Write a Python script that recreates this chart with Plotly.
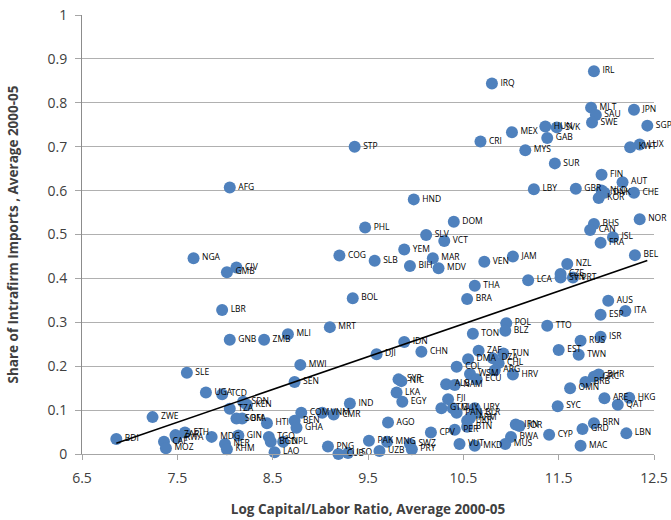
import plotly.graph_objects as go

countries = ["IRL","IRQ","MLT","SAU","SWE","JPN","SGP","LUX","KWT","HUN","SVK","GAB","MEX","MYS","SUR","CRI","STP",
 "FIN","AUT","LBY","GBR","NLD","DNK","KOR","CHE","NOR","BHS","CAN","ISL","FRA","JAM","BEL","NZL","CZE","SVN","PRT","LCA",
 "AUS","ITA","ESP","POL","BLZ","TTO","ISR","RUS","EST","TWN","TUN","HRV","BHR","GRC","BRB","OMN","ARE","HKG","QAT","SYC",
 "BRN","GRD","LBN","CYP","MAC","IRN","JOR","BWA","MUS","TON","IDN","DJI","CHN","ZAF","DZA","CHL","ARG","DMA","COL","WSM","ECU",
 "SYR","NIC","LKA","EGY","ALB","NAM","FJI","GTM","GUY","PAN","URY","BLR","UKR","ARM","BTN","PER","CPV","VUT","MKD","AGO",
 "PAK","MNG","SWZ","PRY","UZB","LSO","CUB","PNG","MWI","SEN","MRT","MLI","ZMB","GNB","LBR","IND","COM","VNM","CMR","BEN",
 "GHA","HTI","TGO","BGD","NPL","LAO","GIN","MDG","NER","KHM","UGA","TCD","SDN","KEN","TZA","SOM","BFA","SLE","ZWE","BDI",
 "CAF","MOZ","ETH","RWA","ZAR","NGA","CIV","GMB","AFG","COG","BOL","PHL","HND","DOM","SLV","VCT","YEM","SLB","BIH","MAR",
 "MDV","VEN","THA","BRA"]

log_kl = [11.87,10.80,11.84,11.89,11.85,12.29,12.43,12.35,12.25,11.36,11.48,11.38,11.01,11.15,11.46,10.68,9.36,
 11.95,12.17,11.24,11.68,11.95,11.98,11.92,12.29,12.35,11.87,11.83,12.07,11.94,11.02,12.30,11.59,11.52,11.52,11.65,11.18,
 12.02,12.20,11.94,10.95,10.94,11.38,11.94,11.73,11.50,11.71,10.92,11.02,11.92,11.87,11.78,11.62,11.98,12.24,12.12,11.49,
 11.87,11.75,12.21,11.40,11.73,11.05,11.09,11.00,10.94,10.60,9.88,9.59,10.06,10.66,10.81,10.87,10.83,10.55,10.43,10.57,10.64,
 9.82,9.85,9.80,9.86,10.32,10.41,10.34,10.27,10.39,10.43,10.62,10.64,10.54,10.57,10.54,10.41,10.16,10.46,10.62,9.71,
 9.51,9.70,9.94,9.96,9.62,9.29,9.19,9.08,8.79,8.73,9.10,8.66,8.41,8.05,7.97,9.31,8.80,9.02,9.14,8.73,
 8.75,8.44,8.46,8.48,8.61,8.52,8.14,7.86,8.00,8.02,7.80,7.97,8.19,8.23,8.05,8.12,8.18,7.60,7.24,6.86,
 7.36,7.38,7.58,7.49,7.48,7.67,8.12,8.02,8.05,9.20,9.34,9.47,9.98,10.40,10.11,10.30,9.88,9.57,9.94,10.18,
 10.24,10.72,10.62,10.54]

intrafirm_share = [0.872,0.844,0.789,0.772,0.755,0.784,0.748,0.705,0.699,0.746,0.744,0.720,0.733,0.692,0.662,0.712,0.700,
 0.636,0.619,0.603,0.604,0.600,0.595,0.583,0.595,0.535,0.524,0.510,0.494,0.481,0.450,0.453,0.433,0.410,0.402,0.402,0.396,
 0.349,0.326,0.317,0.298,0.281,0.292,0.267,0.258,0.237,0.226,0.229,0.181,0.181,0.176,0.164,0.150,0.127,0.128,0.112,0.109,
 0.070,0.057,0.047,0.044,0.019,0.067,0.064,0.039,0.023,0.274,0.255,0.227,0.233,0.235,0.218,0.207,0.191,0.216,0.199,0.182,0.170,
 0.170,0.166,0.140,0.119,0.159,0.157,0.125,0.104,0.104,0.094,0.104,0.094,0.076,0.082,0.062,0.055,0.049,0.023,0.019,0.072,
 0.030,0.028,0.023,0.011,0.007,0.002,0.000,0.017,0.203,0.164,0.289,0.273,0.260,0.260,0.328,0.115,0.094,0.094,0.090,0.076,
 0.060,0.070,0.039,0.028,0.028,0.004,0.042,0.039,0.023,0.011,0.140,0.136,0.119,0.112,0.103,0.081,0.081,0.185,0.084,0.034,
 0.028,0.013,0.049,0.037,0.043,0.446,0.425,0.414,0.607,0.452,0.355,0.516,0.580,0.529,0.499,0.485,0.466,0.440,0.428,0.446,
 0.423,0.438,0.383,0.353]

trend_intercept = -0.488
trend_slope = 0.0747

x_ticks = [6.5, 7.5, 8.5, 9.5, 10.5, 11.5, 12.5]
y_ticks = [0, 0.1, 0.2, 0.3, 0.4, 0.5, 0.6, 0.7, 0.8, 0.9, 1]
y_tick_text = ["0", "0.1", "0.2", "0.3", "0.4", "0.5", "0.6", "0.7", "0.8", "0.9", "1"]

fig = go.Figure()
fig.add_trace(go.Scatter(
    x=log_kl, y=intrafirm_share, text=countries, mode="markers+text",
    textposition="middle right",
    textfont=dict(family="Open Sans", size=8.5, color="#000000"),
    marker=dict(size=12, color="#4F81BD", line=dict(width=0)),
    cliponaxis=False, showlegend=False, hoverinfo="text"))

x_lo, x_hi = min(log_kl), max(log_kl)
fig.add_trace(go.Scatter(
    x=[x_lo, x_hi],
    y=[trend_intercept + trend_slope * x_lo, trend_intercept + trend_slope * x_hi],
    mode="lines", line=dict(color="black", width=1.6), showlegend=False, hoverinfo="skip"))

fig.update_layout(
    width=671, height=520,
    margin=dict(l=82, r=17, t=15, b=66),
    paper_bgcolor="white", plot_bgcolor="white",
    font=dict(family="Open Sans", color="#404040"),
)
fig.update_xaxes(
    range=[6.5, 12.5], tickvals=x_ticks, ticktext=[str(v) for v in x_ticks],
    showgrid=False, zeroline=False, showline=True, linecolor="#A6A6A6", linewidth=1,
    ticks="outside", ticklen=5, tickcolor="#A6A6A6", ticklabelstandoff=6,
    tickfont=dict(size=14, color="#404040"),
    title=dict(text="<b>Log Capital/Labor Ratio, Average 2000-05</b>",
               font=dict(size=13.5, color="#404040"), standoff=18),
    automargin=False)
fig.update_yaxes(
    range=[0, 1], tickvals=y_ticks, ticktext=y_tick_text,
    showgrid=True, gridcolor="#B0B0B0", gridwidth=1, zeroline=False,
    showline=True, linecolor="#8C8C8C", linewidth=1,
    ticks="outside", ticklen=6, tickcolor="#A6A6A6", ticklabelstandoff=5,
    tickfont=dict(size=14, color="#404040"),
    title=dict(text="<b>Share of Intrafirm Imports , Average 2000-05</b>",
               font=dict(size=13.5, color="#404040"), standoff=25),
    automargin=False)

fig.write_html("out.html", config={"displayModeBar": False},
               post_script="document.body.style.margin='0';document.body.style.overflow='hidden';")
